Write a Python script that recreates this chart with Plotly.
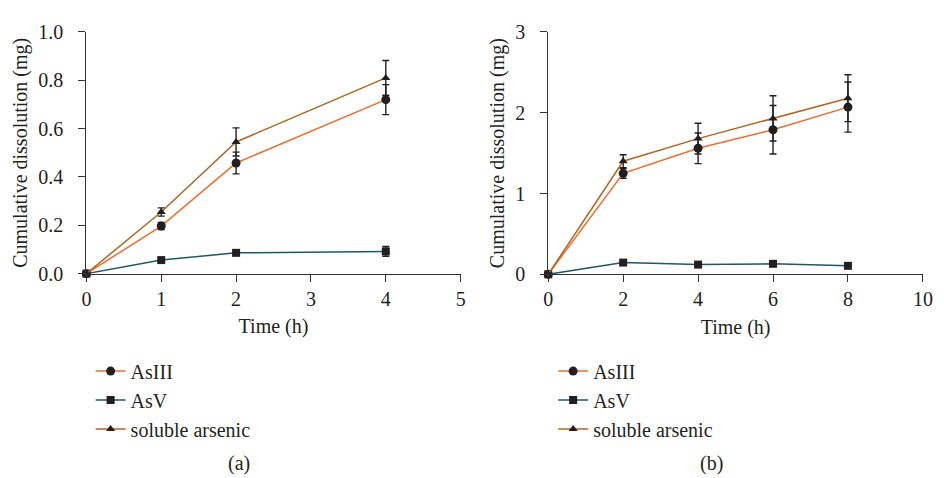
import plotly.graph_objects as go

# ---- data ----
time_a = [0, 1, 2, 4]
asiii_a = [0, 0.197, 0.458, 0.72]
asiii_a_err = [0, 0.015, 0.045, 0.062]
asv_a = [0, 0.056, 0.086, 0.092]
asv_a_err = [0, 0.0, 0.0, 0.02]
sol_a = [0, 0.255, 0.545, 0.81]
sol_a_err = [0, 0.017, 0.058, 0.072]

time_b = [0, 2, 4, 6, 8]
asiii_b = [0, 1.25, 1.56, 1.79, 2.07]
asiii_b_err = [0, 0.06, 0.19, 0.30, 0.31]
asv_b = [0, 0.145, 0.12, 0.13, 0.105]
asv_b_err = [0, 0, 0, 0, 0]
sol_b = [0, 1.40, 1.68, 1.93, 2.18]
sol_b_err = [0, 0.08, 0.19, 0.28, 0.29]

series_names = ["AsIII", "AsV", "soluble arsenic"]
line_colors = ["#F26B2E", "#1E5868", "#B0661F"]
symbols = ["circle", "square", "triangle-up"]
marker_sizes = [9, 8, 8]

FONT = "Liberation Serif, serif"
FS = 20
TXT = "#231F20"
MK = "#231F20"

fig = go.Figure()

def add_panel(xs, ys_list, errs_list, xa, ya, legend_name):
    for i, (ys, errs) in enumerate(zip(ys_list, errs_list)):
        fig.add_trace(go.Scatter(
            x=xs, y=ys, name=series_names[i], mode="lines+markers",
            line=dict(color=line_colors[i], width=1.5),
            marker=dict(symbol=symbols[i], size=marker_sizes[i], color=MK),
            error_y=dict(type="data", array=errs, visible=True,
                         color=MK, thickness=1.4, width=3.5),
            xaxis=xa, yaxis=ya, legend=legend_name, legendgroup=legend_name + str(i),
            cliponaxis=False,
        ))

add_panel(time_a, [asiii_a, asv_a, sol_a], [asiii_a_err, asv_a_err, sol_a_err], "x", "y", "legend")
add_panel(time_b, [asiii_b, asv_b, sol_b], [asiii_b_err, asv_b_err, sol_b_err], "x2", "y2", "legend2")

W, H = 944, 478
def fx(px): return px / W
def fy(py): return 1 - py / H

tfont = dict(family=FONT, size=FS, color=TXT)

fig.update_layout(
    width=W, height=H,
    margin=dict(l=0, r=0, t=0, b=0),
    paper_bgcolor="white", plot_bgcolor="white",
    font=tfont,
    xaxis=dict(domain=[fx(82.7), fx(463)], range=[0, 5], dtick=1, tick0=0,
               title=dict(text="Time (h)", standoff=10, font=tfont), anchor="y"),
    yaxis=dict(domain=[fy(275.3), fy(22)], range=[0, 1.0], dtick=0.2, tickformat=".1f",
               title=dict(text="Cumulative dissolution (mg)", standoff=5, font=tfont), anchor="x"),
    xaxis2=dict(domain=[fx(552), fx(932.7)], range=[0, 10], dtick=2, tick0=0,
                title=dict(text="Time (h)", standoff=10, font=tfont), anchor="y2"),
    yaxis2=dict(domain=[fy(276), fy(22)], range=[0, 3], dtick=1,
                title=dict(text="Cumulative dissolution (mg)", standoff=5, font=tfont), anchor="x2"),
    legend=dict(x=fx(87), y=fy(357), xanchor="left", yanchor="top",
                font=tfont, tracegroupgap=0, bgcolor="rgba(0,0,0,0)"),
    legend2=dict(x=fx(557), y=fy(357), xanchor="left", yanchor="top",
                 font=tfont, tracegroupgap=0, bgcolor="rgba(0,0,0,0)"),
    annotations=[
        dict(text="(a)", x=fx(238), y=fy(474), xref="paper", yref="paper",
             xanchor="center", yanchor="middle", showarrow=False, font=tfont),
        dict(text="(b)", x=fx(718), y=fy(474), xref="paper", yref="paper",
             xanchor="center", yanchor="middle", showarrow=False, font=tfont),
    ],
)

fig.update_xaxes(showline=True, linecolor="#333333", linewidth=1.2,
                 ticks="outside", ticklen=7, tickwidth=1.2, tickcolor="#333333",
                 showgrid=False, zeroline=False, tickfont=tfont)
fig.update_yaxes(showline=True, linecolor="#333333", linewidth=1.2,
                 ticks="outside", ticklen=7, tickwidth=1.2, tickcolor="#333333",
                 showgrid=False, zeroline=False, tickfont=tfont, ticklabelstandoff=11)

fig.write_html("out.html")
